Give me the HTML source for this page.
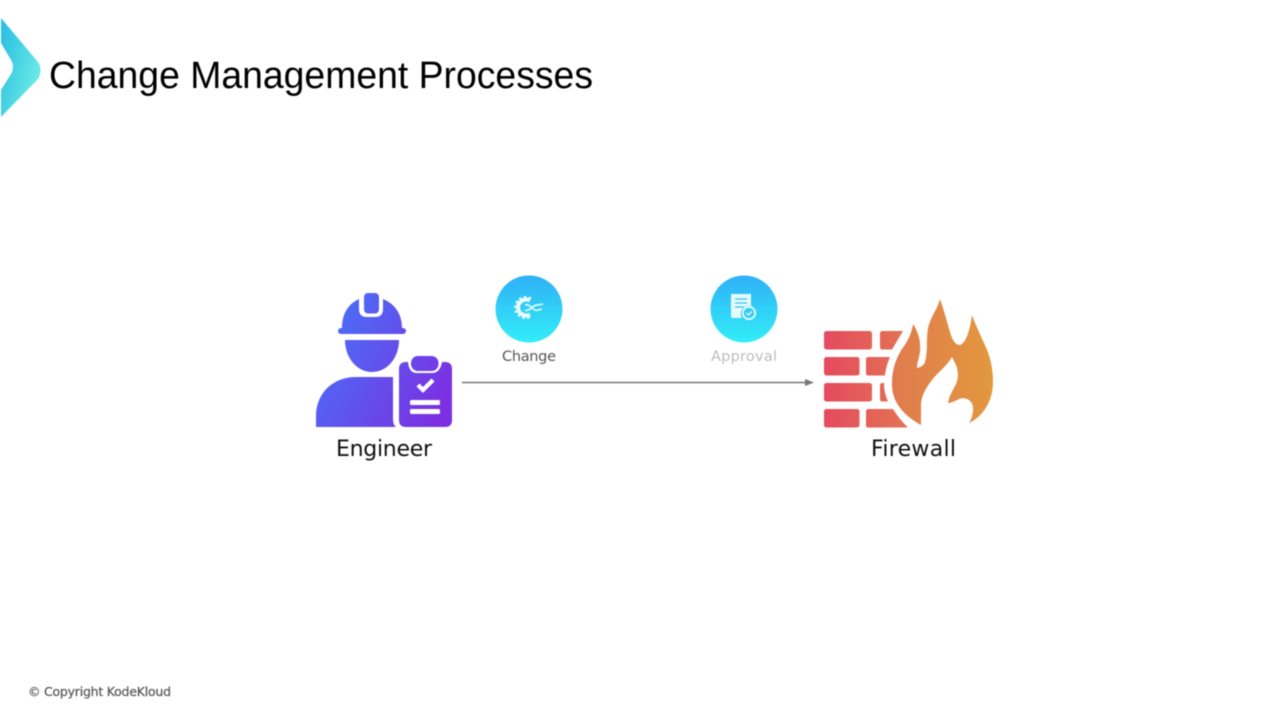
<!DOCTYPE html>
<html lang="en">
<head>
<meta charset="utf-8">
<title>Change Management Processes</title>
<style>
html,body{margin:0;padding:0;background:#fff;width:1280px;height:720px;overflow:hidden}
svg{display:block;filter:blur(0.4px)}
</style>
</head>
<body>
<svg xmlns="http://www.w3.org/2000/svg" width="1280" height="720" viewBox="0 0 1280 720">
<defs>
<linearGradient id="lg" x1="0" y1="0.2" x2="1" y2="0.8"><stop offset="0" stop-color="#2cc0e2"/><stop offset="1" stop-color="#72f0e6"/></linearGradient>
<linearGradient id="cg" x1="0" y1="0" x2="0" y2="1"><stop offset="0" stop-color="#2fb0f6"/><stop offset="1" stop-color="#33eef8"/></linearGradient>
<linearGradient id="eg" gradientUnits="userSpaceOnUse" x1="335" y1="340" x2="445" y2="400"><stop offset="0" stop-color="#4f68f4"/><stop offset="1" stop-color="#7b30e2"/></linearGradient>
<linearGradient id="fg" gradientUnits="userSpaceOnUse" x1="824" y1="0" x2="910" y2="0"><stop offset="0" stop-color="#e54a5f"/><stop offset="1" stop-color="#e37552"/></linearGradient>
<linearGradient id="fl" gradientUnits="userSpaceOnUse" x1="892" y1="0" x2="993" y2="0"><stop offset="0" stop-color="#e07a4e"/><stop offset="1" stop-color="#e3983e"/></linearGradient>
</defs>

<!-- logo -->
<path d="M1 18 L38 62 Q43 70 38 79 L1 117 L1 90 L11 74 Q15 67 11 60 L1 43 Z" fill="url(#lg)"/>

<!-- title -->
<text x="49" y="88" font-family="'Liberation Sans',Arial,sans-serif" font-size="38" fill="#000" textLength="544" lengthAdjust="spacingAndGlyphs">Change Management Processes</text>

<!-- engineer -->
<g fill="url(#eg)">
<path d="M342 328 C342 314 348 304 359 299 V309 Q359 317 367 317 H375 Q383 317 383 309 V299 C395 304 402 314 402 328 Z"/>
<rect x="364" y="293" width="15" height="20.500" rx="4"/>
<rect x="338" y="328" width="68" height="6" rx="3"/>
<path d="M345 340 H399 C399 358 387 372 372 372 C357 372 345 358 345 340 Z"/>
<path d="M316 427 V416 C316 394 332 377 356 377 H393 V419 Q393 425 396 427 Z"/>
<path d="M406 362 H408 Q409 373 417 373 H432 Q440 373 442 362 H445 Q452 362 452 369 V420 Q452 427 445 427 H406 Q399 427 399 420 V369 Q399 362 406 362 Z"/>
<rect x="411" y="356" width="27.500" height="15" rx="7"/>
</g>
<path d="M418 385 L423 390 L433 380" fill="none" stroke="#fff" stroke-width="4.200"/>
<rect x="410" y="400" width="30" height="5" rx="1.500" fill="#fff"/>
<rect x="410" y="409" width="30" height="5" rx="1.500" fill="#fff"/>
<text x="336" y="456" font-family="'DejaVu Sans',sans-serif" font-size="22" fill="#111" textLength="96">Engineer</text>

<!-- connector -->
<line x1="462" y1="382.500" x2="807" y2="382.500" stroke="#777" stroke-width="1.600"/>
<path d="M805 379 L814 382.500 L805 386 Z" fill="#777"/>

<!-- change -->
<circle cx="529" cy="309" r="33.500" fill="url(#cg)"/>
<path d="M530 300.500 A8 8 0 1 0 530 314.500" fill="none" stroke="#e8fbff" stroke-width="4"/>
<path d="M531 298.500 A10.500 10.500 0 1 0 531 316.500" fill="none" stroke="#e8fbff" stroke-width="2" stroke-dasharray="2.500 2.500"/>
<path d="M525 305 C530 303 533 312 538 310 L542 309 M525 310 C530 312 533 304 538 305 L543 304" fill="none" stroke="#e8fbff" stroke-width="1.600"/>
<text x="502" y="361" font-family="'DejaVu Sans',sans-serif" font-size="14.500" fill="#555" textLength="54">Change</text>

<!-- approval -->
<circle cx="744" cy="309" r="33.500" fill="url(#cg)"/>
<path d="M731 294 H751 V306 A8 8 0 0 0 742 318 H733 Q731 318 731 316 Z" fill="#e6fbff"/>
<path d="M735 299 H747 M735 303 H747 M735 307 H744" stroke="#3cc0f0" stroke-width="1.300"/>
<circle cx="749" cy="313" r="6.200" fill="#39cdf5" stroke="#e6fbff" stroke-width="1.800"/>
<path d="M746.500 313 L748.500 315 L752 311.500" fill="none" stroke="#e6fbff" stroke-width="1.300"/>
<text x="711" y="361" font-family="'DejaVu Sans',sans-serif" font-size="14.500" fill="#bcbcbc" textLength="66">Approval</text>

<!-- firewall -->
<g fill="url(#fg)">
<rect x="824" y="331" width="48" height="18.500" rx="2.500"/>
<path d="M882 331 H903 L892 349.500 H882 Q880 349.500 880 347 V334 Q880 331 882 331 Z"/>
<rect x="824" y="357" width="35.500" height="18.500" rx="2.500"/>
<path d="M868 357 H890 Q886 366 885 375.500 H868 Q866 375.500 866 373 V360 Q866 357 868 357 Z"/>
<rect x="824" y="383" width="48" height="18.500" rx="2.500"/>
<path d="M882 383 H884 Q884 393 888 401.500 H882 Q880 401.500 880 399 V386 Q880 383 882 383 Z"/>
<rect x="824" y="409" width="35.500" height="18.500" rx="2.500"/>
<path d="M868 409 H893 Q900 420 908 427.500 H868 Q866 427.500 866 425 V412 Q866 409 868 409 Z"/>
</g>
<path fill="url(#fl)" d="M921 425 C903 415 891 401 892 382 C892 370 896 357 904 346 C909 339 912 331 913 324 C919 333 921 343 920 352 C919 358 917 363 917 368 C921 367 924 365 925 362 C928 352 926 340 928 328 C931 316 938 308 940 299 C944 310 947 322 950 332 C952 339 955 345 960 345 C966 343 970 330 972 315 C976 326 980 334 984 343 C990 355 993 368 993 382 C993 400 984 416 969 423 C974 415 974 405 971 402 C968 398 962 397 957 400 C953 402 950 403 948 403 C949 396 953 390 956 384 C959 377 958 370 956 365 L952 357 C947 366 938 372 932 380 C926 388 921 396 921 405 Z"/>
<text x="871" y="456" font-family="'DejaVu Sans',sans-serif" font-size="22" fill="#111" textLength="85">Firewall</text>

<!-- footer -->
<text x="28" y="696" font-family="'DejaVu Sans',sans-serif" font-size="12.500" fill="#555" stroke="#555" stroke-width="0.200" textLength="143">© Copyright KodeKloud</text>
</svg>
</body>
</html>
